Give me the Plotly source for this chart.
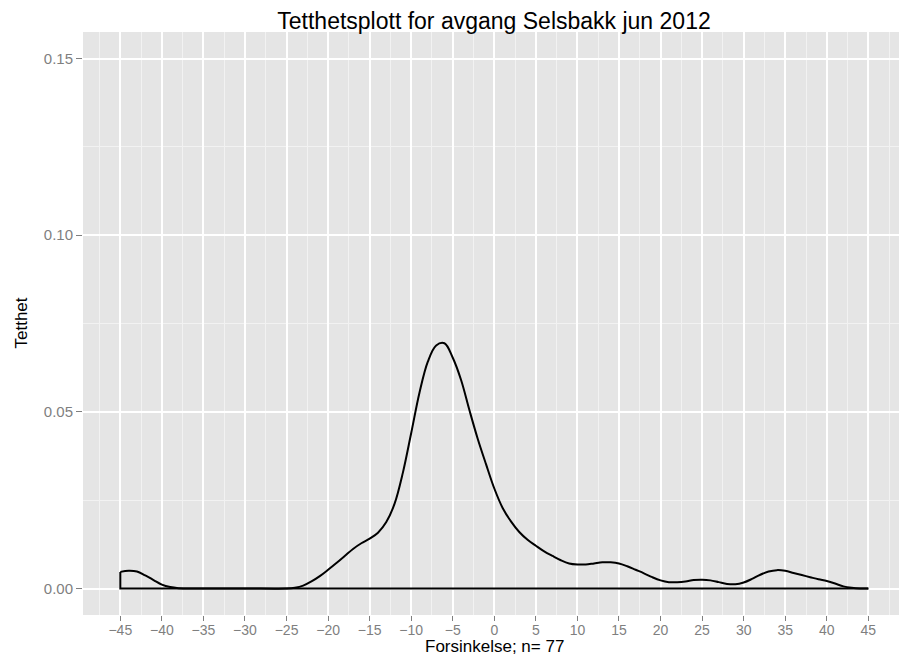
import plotly.graph_objects as go

# Kernel density estimate of departure delay (minutes), read at selected delays
delay = [-45, -44, -43, -42, -41, -40, -39, -38, -36, -30, -25, -24, -23, -22,
         -21, -20, -19, -18, -17, -16, -15, -14, -13, -12, -11, -10, -9, -8,
         -7, -6, -5, -4, -3, -2, -1, 0, 1, 2, 3, 4, 5, 6, 7, 8, 9, 10,
         11, 12, 13, 14, 15, 16, 17, 18, 19, 20, 21, 22, 23, 24, 25, 26, 27,
         28, 29, 30, 31, 32, 33, 34, 35, 36, 37, 38, 39, 40, 41, 42, 43, 44, 45]
density = [0.0047, 0.0050, 0.0048, 0.0037, 0.0024, 0.0011, 0.0004, 0.0001,
           0.0, 0.0, 0.0, 0.0002, 0.0008, 0.0020, 0.0035, 0.0053, 0.0072,
           0.0092, 0.0112, 0.0128, 0.0141, 0.0158, 0.0188, 0.0240, 0.0328,
           0.0440, 0.0555, 0.0642, 0.0688, 0.0694, 0.0653, 0.0590,
           0.0505, 0.0424, 0.0352, 0.0283, 0.0228, 0.0190, 0.0160, 0.0138,
           0.0121, 0.0105, 0.0092, 0.0080, 0.0071, 0.0068, 0.0068, 0.0071,
           0.0074, 0.0074, 0.0071, 0.0063, 0.0053, 0.0043, 0.0032, 0.0023,
           0.0018, 0.0018, 0.0020, 0.0024, 0.0025, 0.0023, 0.0018, 0.0013,
           0.0012, 0.0017, 0.0027, 0.0039, 0.0048, 0.0052, 0.0050, 0.0044,
           0.0038, 0.0032, 0.0026, 0.0021, 0.0014, 0.0006, 0.0002, 0.0, 0.0]

x_ticks = list(range(-45, 50, 5))
y_ticks = [0.00, 0.05, 0.10, 0.15]

title_text = "Tetthetsplott for avgang Selsbakk jun 2012"
x_title = "Forsinkelse; n= 77"
y_title = "Tetthet"

FONT = "Liberation Sans, Arial, Helvetica, sans-serif"
GREY50 = "#7f7f7f"

W, H = 899, 655
M_L, M_R, M_T, M_B = 83, 0, 32, 40
plot_w = W - M_L - M_R
plot_h = H - M_T - M_B

fig = go.Figure()

# density curve
fig.add_trace(go.Scatter(
    x=delay, y=density, mode="lines",
    line=dict(color="black", width=2, shape="spline", smoothing=1.0),
    hoverinfo="skip", showlegend=False,
))
# closing edge of the density polygon (left side and baseline)
fig.add_trace(go.Scatter(
    x=[delay[0], delay[0], delay[-1]],
    y=[density[0], 0, density[-1]],
    mode="lines", line=dict(color="black", width=2),
    hoverinfo="skip", showlegend=False,
))

fig.update_layout(
    width=W, height=H,
    margin=dict(l=M_L, r=M_R, t=M_T, b=M_B, autoexpand=False),
    paper_bgcolor="white",
    plot_bgcolor="#e5e5e5",
    font=dict(family=FONT, color="black"),
    title=dict(text=title_text, x=494 / W, xref="container", xanchor="center",
               y=1 - 21 / H, yref="container", yanchor="middle",
               font=dict(size=23, color="black")),
    showlegend=False,
    annotations=[
        # axis titles
        dict(text=x_title, xref="paper", yref="paper",
             x=(494 - M_L) / plot_w, y=-(646 - (M_T + plot_h)) / plot_h,
             xanchor="center", yanchor="middle", showarrow=False,
             font=dict(size=17, color="black")),
        dict(text=y_title, xref="paper", yref="paper",
             x=-(M_L - 21) / plot_w, y=0.5, textangle=-90,
             xanchor="center", yanchor="middle", showarrow=False,
             font=dict(size=17, color="black")),
    ],
)

fig.update_xaxes(
    range=[-49.49, 48.69], automargin=False,
    tickmode="array", tickvals=x_ticks,
    ticktext=[str(v).replace("-", "\u2212") for v in x_ticks],
    ticks="outside", ticklen=5, tickwidth=1, tickcolor=GREY50,
    tickfont=dict(size=14, color=GREY50), ticklabelstandoff=-3,
    showgrid=True, gridcolor="white", gridwidth=2,
    minor=dict(dtick=2.5, tick0=-47.5, showgrid=True, gridcolor="#f2f2f2",
               gridwidth=1, ticks=""),
    zeroline=False, showline=False,
)
fig.update_yaxes(
    range=[-0.0075, 0.1575], automargin=False,
    tickmode="array", tickvals=y_ticks, ticktext=[f"{v:.2f}" for v in y_ticks],
    ticks="outside", ticklen=6, tickwidth=1, tickcolor=GREY50,
    tickfont=dict(size=15, color=GREY50),
    showgrid=True, gridcolor="white", gridwidth=2,
    minor=dict(dtick=0.025, tick0=-0.025, showgrid=True, gridcolor="#f2f2f2",
               gridwidth=1, ticks=""),
    zeroline=False, showline=False,
)

fig.write_html("out.html")
